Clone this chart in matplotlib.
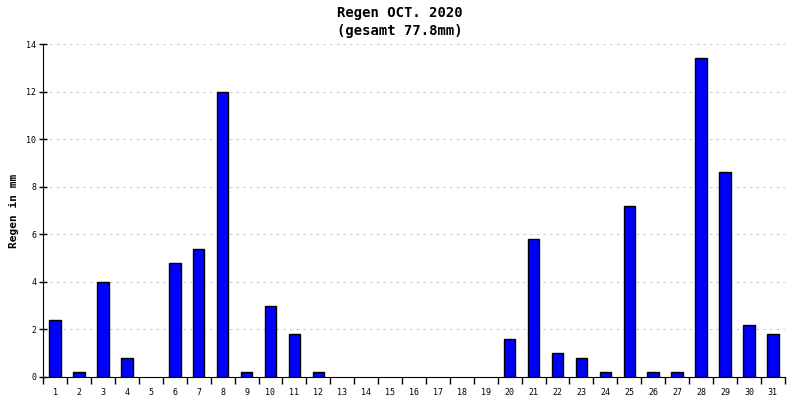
import numpy as np
import matplotlib
matplotlib.use("Agg")
import matplotlib.pyplot as plt
from matplotlib.ticker import FixedLocator

days = list(range(1, 32))
rain = [2.4, 0.2, 4.0, 0.8, 0.0, 4.8, 5.4, 12.0, 0.2, 3.0, 1.8, 0.2, 0.0, 0.0,
        0.0, 0.0, 0.0, 0.0, 0.0, 1.6, 5.8, 1.0, 0.8, 0.2, 7.2, 0.2, 0.2, 13.4,
        8.6, 2.2, 1.8]
yticks = [0, 2, 4, 6, 8, 10, 12, 14]
title = "Regen OCT. 2020\n(gesamt 77.8mm)"

plt.rcParams['font.family'] = ['DejaVu Sans Mono']

fig = plt.figure(figsize=(8, 4), dpi=100)
ax = fig.add_axes([0.054, 0.0575, 0.927, 0.8325])

# dry days get no outline
edges = [1 if r > 0 else 0 for r in rain]
ax.bar(days, rain, width=0.48, color="#0000ff", edgecolor="black", linewidth=edges, zorder=3)

ax.set_xlim(0.5, 31.5)
ax.set_ylim(0, 14)

# boundaries get the ticks, day labels sit in between
ax.xaxis.set_major_locator(FixedLocator(np.arange(0.5, 32, 1)))
ax.xaxis.set_major_formatter(plt.NullFormatter())
ax.xaxis.set_minor_locator(FixedLocator(days))
ax.set_xticklabels([str(d) for d in days], minor=True, fontsize=6)
ax.tick_params(axis="x", which="major", direction="out", length=5, width=1)
ax.tick_params(axis="x", which="minor", length=0, pad=8)

ax.set_yticks(yticks)
ax.set_yticklabels([str(v) for v in yticks], fontsize=6)
ax.tick_params(axis="y", direction="inout", length=6, width=1, pad=2)

ax.yaxis.grid(True, color="#c8c8c8", linestyle=(0, (2, 4)), linewidth=0.8, zorder=0)
ax.spines["top"].set_visible(False)
ax.spines["right"].set_visible(False)

ax.set_ylabel("Regen in mm", fontsize=8, fontweight="bold", labelpad=5)
fig.text(0.5, 0.985, title, ha="center", va="top", fontsize=10, fontweight="bold",
         linespacing=1.4)

fig.savefig("out.png", dpi=100)
